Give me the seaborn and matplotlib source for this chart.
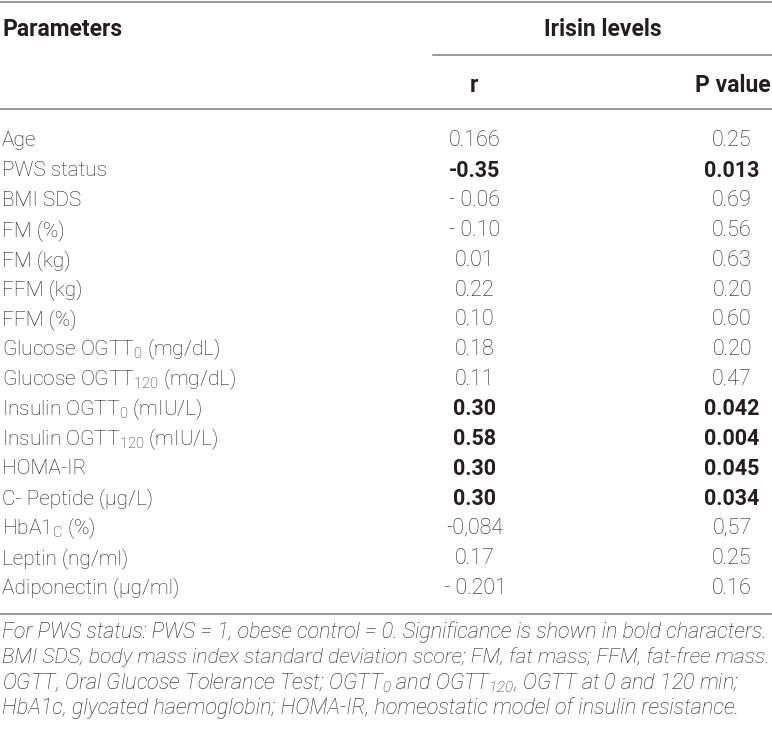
import matplotlib
matplotlib.use("Agg")
import matplotlib.pyplot as plt
import seaborn as sns
import pandas as pd

# table content
parameters = [
    "Age", "PWS status", "BMI SDS", "FM (%)", "FM (kg)", "FFM (kg)", "FFM (%)",
    "Glucose OGTT$_0$ (mg/dL)", "Glucose OGTT$_{120}$ (mg/dL)",
    "Insulin OGTT$_0$ (mIU/L)", "Insulin OGTT$_{120}$ (mIU/L)",
    "HOMA-IR", "C- Peptide (µg/L)", "HbA1$_\\mathrm{C}$ (%)",
    "Leptin (ng/ml)", "Adiponectin (µg/ml)",
]
r_values = ["0.166", "-0.35", "- 0.06", "- 0.10", "0.01", "0.22", "0.10", "0.18",
            "0.11", "0.30", "0.58", "0.30", "0.30", "-0,084", "0.17", "- 0.201"]
p_values = ["0.25", "0.013", "0.69", "0.56", "0.63", "0.20", "0.60", "0.20",
            "0.47", "0.042", "0.004", "0.045", "0.034", "0,57", "0.25", "0.16"]
significant = [False, True, False, False, False, False, False, False,
               False, True, True, True, True, False, False, False]
footnote_lines = [
    "For PWS status: PWS = 1, obese control = 0. Significance is shown in bold characters.",
    "BMI SDS, body mass index standard deviation score; FM, fat mass; FFM, fat-free mass.",
    "OGTT, Oral Glucose Tolerance Test; OGTT$_\\mathsf{0}$ and OGTT$_\\mathsf{120}$, OGTT at 0 and 120 min;",
    "HbA1c, glycated haemoglobin; HOMA-IR, homeostatic model of insulin resistance.",
]

sns.set_theme(style="white")
FONT = "Roboto"
plt.rcParams["font.family"] = [FONT, "DejaVu Sans"]
plt.rcParams["mathtext.fontset"] = "custom"
plt.rcParams["mathtext.rm"] = f"{FONT}:light"
plt.rcParams["mathtext.sf"] = f"{FONT}:italic:light"

TXT = "#231f20"
LINE = "#9a9a9a"
W, H = 772, 733

df = pd.DataFrame({"param": parameters, "r": r_values, "p": p_values, "sig": significant})

fig = plt.figure(figsize=(W / 100, H / 100), dpi=100)
ax = fig.add_axes([0, 0, 1, 1])
ax.set_xlim(0, W)
ax.set_ylim(H, 0)
ax.axis("off")

# rules
ax.plot([0, W], [1.5, 1.5], color=LINE, lw=1.4)
ax.plot([433, W], [55, 55], color=LINE, lw=1.4)
ax.plot([0, W], [109, 109], color=LINE, lw=1.4)
ax.plot([0, W], [614, 614], color=LINE, lw=1.4)

# header
hdr = dict(fontsize=16.5, fontweight="bold", color=TXT, va="center")
ax.text(2, 29, "Parameters", ha="left", **hdr)
ax.text(603, 29, "Irisin levels", ha="center", **hdr)
ax.text(474, 85, "r", ha="center", **hdr)
ax.text(771, 85, "P value", ha="right", **hdr)

# body rows
y0, step = 141, 29.8
for i, row in df.iterrows():
    y = y0 + i * step
    ax.text(2, y, row["param"], ha="left", va="center", fontsize=15,
            fontweight="light", color=TXT)
    w = "bold" if row["sig"] else "light"
    ax.text(475, y, row["r"], ha="center", va="center", fontsize=15.5, fontweight=w, color=TXT)
    ax.text(732, y, row["p"], ha="center", va="center", fontsize=15.5, fontweight=w, color=TXT)

# footnote, shrink a line a bit if it would run past the right edge
renderer = fig.canvas.get_renderer()
for k, line in enumerate(footnote_lines):
    t = ax.text(2, 632 + k * 25.4, line, ha="left", va="center", fontsize=15.6,
                fontstyle="italic", fontweight="light", color=TXT)
    width = t.get_window_extent(renderer).width
    if width > 766:
        t.set_fontsize(15.6 * 766 / width)

fig.savefig("out.png", dpi=100)
